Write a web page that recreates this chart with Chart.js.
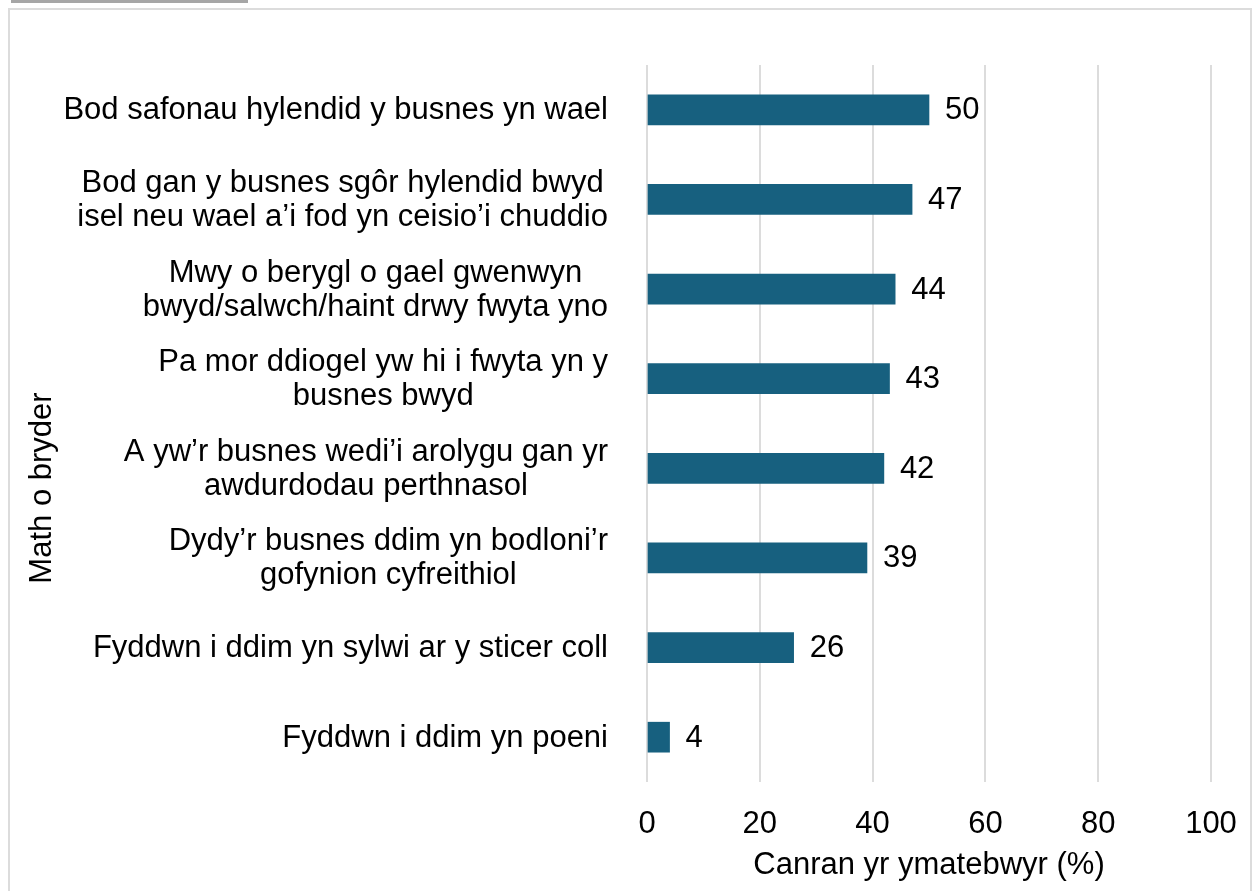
<!DOCTYPE html>
<html>
<head>
<meta charset="utf-8">
<script src="https://cdn.jsdelivr.net/npm/chart.js@4"></script>
<style>
  html, body { margin: 0; padding: 0; background: #fff; }
  .wrap { position: relative; width: 1252px; height: 891px; overflow: hidden; }
  .tab { position: absolute; left: 11px; top: 0; width: 237px; height: 3px; background: #a6a6a6; }
  .frame { position: absolute; left: 8px; top: 8px; width: 1240px; height: 900px; border: 2px solid #dcdcdc; }
  canvas { position: absolute; left: 0; top: 0; }
</style>
</head>
<body>
<div class="wrap">
  <div class="tab"></div>
  <div class="frame"></div>
  <canvas id="chart" width="1252" height="891"></canvas>
</div>
<script>
const categories = [
  "Bod safonau hylendid y busnes yn wael",
  ["Bod gan y busnes sgôr hylendid bwyd", "isel neu wael a’i fod yn ceisio’i chuddio"],
  ["Mwy o berygl o gael gwenwyn", "bwyd/salwch/haint drwy fwyta yno"],
  ["Pa mor ddiogel yw hi i fwyta yn y", "busnes bwyd"],
  ["A yw’r busnes wedi’i arolygu gan yr", "awdurdodau perthnasol"],
  ["Dydy’r busnes ddim yn bodloni’r", "gofynion cyfreithiol"],
  "Fyddwn i ddim yn sylwi ar y sticer coll",
  "Fyddwn i ddim yn poeni"
];
const values = [50, 47, 44, 43, 42, 39, 26, 4];
const xTicks = [0, 20, 40, 60, 80, 100];
const xTitle = "Canran yr ymatebwyr (%)";
const yTitle = "Math o bryder";

const FONT = "'Liberation Sans', Arial, sans-serif";
const SIZE = 31;

// draws the category labels (right aligned block, centred lines), y title and bar values
const textPlugin = {
  id: "textPlugin",
  afterDraw(chart) {
    const ctx = chart.ctx;
    const yScale = chart.scales.y;
    ctx.save();
    ctx.fillStyle = "#000";
    ctx.font = SIZE + "px " + FONT;
    ctx.textBaseline = "middle";
    ctx.textAlign = "center";
    const rightEdge = 608;
    const lh = 34;
    categories.forEach((lab, i) => {
      const lines = Array.isArray(lab) ? lab : [lab];
      const y = yScale.getPixelForValue(i);
      const w = Math.max(...lines.map(l => ctx.measureText(l).width));
      const cx = rightEdge - w / 2;
      lines.forEach((l, j) => {
        ctx.fillText(l, cx, y + 1 + (j - (lines.length - 1) / 2) * lh);
      });
    });

    // value labels
    ctx.textAlign = "left";
    const meta = chart.getDatasetMeta(0);
    meta.data.forEach((bar, i) => {
      ctx.fillText(String(values[i]), bar.x + 16, bar.y + 1);
    });

    // y title
    ctx.translate(42, 488);
    ctx.rotate(-Math.PI / 2);
    ctx.textAlign = "center";
    ctx.fillText(yTitle, 0, 0);
    ctx.restore();
  }
};

new Chart(document.getElementById("chart"), {
  type: "bar",
  data: {
    labels: categories,
    datasets: [{
      data: values,
      backgroundColor: "#17607f",
      barThickness: 30
    }]
  },
  options: {
    indexAxis: "y",
    responsive: false,
    animation: false,
    layout: { padding: { top: 65, right: 41, left: 0, bottom: 0 } },
    plugins: { legend: { display: false }, tooltip: { enabled: false } },
    scales: {
      x: {
        min: 0,
        max: 100,
        afterBuildTicks: s => { s.ticks = xTicks.map(v => ({ value: v })); },
        afterFit: s => { s.height = 109; s.paddingLeft = 0; s.paddingRight = 0; },
        grid: { color: "#dcdcdc", lineWidth: 2, drawTicks: false },
        border: { display: false },
        ticks: { color: "#000", font: { family: FONT, size: SIZE }, padding: 24 },
        title: {
          display: true,
          text: xTitle,
          color: "#000",
          font: { family: FONT, size: SIZE },
          padding: { top: 0, bottom: 7 }
        }
      },
      y: {
        afterFit: s => { s.width = 647; },
        grid: { display: false },
        border: { display: false },
        ticks: { display: false }
      }
    }
  },
  plugins: [textPlugin]
});
</script>
</body>
</html>
